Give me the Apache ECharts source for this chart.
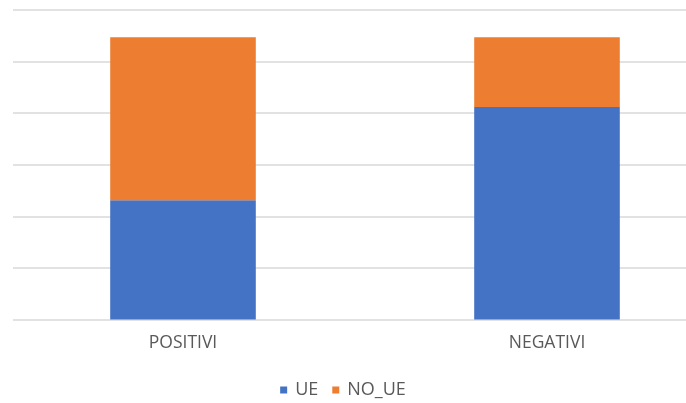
<!DOCTYPE html>
<html>
<head>
<meta charset="utf-8">
<script src="https://cdn.jsdelivr.net/npm/echarts@6/dist/echarts.min.js"></script>
<style>
  html, body { margin: 0; padding: 0; background: #fff; }
  #main { width: 686px; height: 403px; }
</style>
</head>
<body>
<div id="main"></div>
<script>
var categories = ['POSITIVI', 'NEGATIVI'];
var ueValues = [231, 412];
var noUeValues = [316, 135];

var chartDom = document.getElementById('main');
var myChart = echarts.init(chartDom);
var option;

const textColor = '#595959';
const gridColor = '#d9d9d9';

option = {
  animation: false,
  backgroundColor: '#fff',
  textStyle: { fontFamily: 'Open Sans' },
  legend: {
    top: 376,
    left: 'center',
    itemWidth: 7,
    itemHeight: 7,
    itemGap: 14,
    icon: 'rect',
    textStyle: { color: textColor, fontSize: 18, padding: [0, 0, 0, 3] },
    data: ['UE', 'NO_UE']
  },
  // grid 0 only carries the horizontal gridlines, grid 1 holds the bars
  grid: [
    { left: 13, right: 0, top: 10, bottom: 83.5, outerBoundsMode: 'none' },
    { left: 1, width: 728, top: 10, bottom: 83.5, outerBoundsMode: 'none' }
  ],
  xAxis: [
    { type: 'category', gridIndex: 0, data: categories, show: false },
    {
      type: 'category',
      gridIndex: 1,
      data: categories,
      axisLine: { show: false },
      axisTick: { show: false },
      axisLabel: { color: textColor, fontSize: 17.5, margin: 15 }
    }
  ],
  yAxis: [
    {
      type: 'value',
      gridIndex: 0,
      min: 0,
      max: 600,
      interval: 100,
      axisLine: { show: false },
      axisTick: { show: false },
      axisLabel: { show: false },
      splitLine: { lineStyle: { color: gridColor, width: 1.5 } }
    },
    {
      type: 'value',
      gridIndex: 1,
      min: 0,
      max: 600,
      interval: 100,
      show: false,
      splitLine: { show: false }
    }
  ],
  series: [
    {
      name: 'UE',
      type: 'bar',
      stack: 'tot',
      xAxisIndex: 1,
      yAxisIndex: 1,
      barWidth: '40%',
      itemStyle: { color: '#4472c4' },
      data: ueValues
    },
    {
      name: 'NO_UE',
      type: 'bar',
      stack: 'tot',
      xAxisIndex: 1,
      yAxisIndex: 1,
      barWidth: '40%',
      itemStyle: { color: '#ed7d31' },
      data: noUeValues
    }
  ]
};

myChart.setOption(option);
</script>
</body>
</html>
